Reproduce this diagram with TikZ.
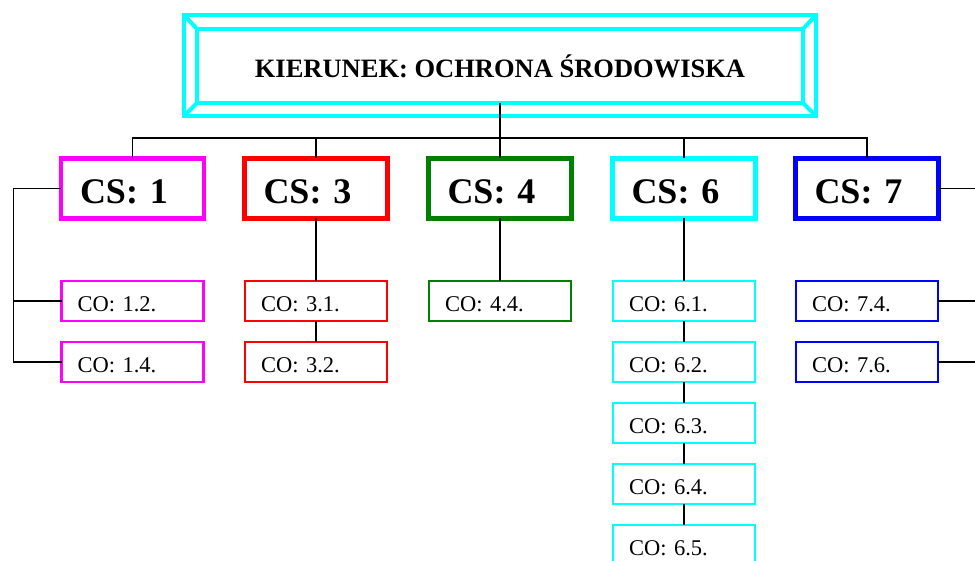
\documentclass[tikz,border=0pt]{standalone}
\usepackage{fontspec}
\setmainfont{Liberation Serif}
\usetikzlibrary{positioning}
\definecolor{csgreen}{RGB}{0,128,0}
\definecolor{cscyan}{RGB}{0,255,255}
\definecolor{csmagenta}{RGB}{255,0,255}
\definecolor{csred}{RGB}{255,0,0}
\definecolor{csblue}{RGB}{0,0,255}

\begin{document}
\begin{tikzpicture}[x=1pt,y=-1pt,
                    csbox/.style={draw=#1,line width=4.5pt,outer sep=0pt,minimum height=60pt,
                                  text width=105pt,inner xsep=19pt,align=left,
                                  text height=30pt,text depth=0pt,
                                  font=\fontsize{36}{36}\selectfont\bfseries},
                    cobox/.style={draw=#1,line width=2.5pt,outer sep=0pt,minimum height=40pt,
                                  text width=110pt,inner xsep=16pt,align=left,
                                  text height=21.5pt,text depth=0pt,
                                  font=\fontsize{22.5}{22.5}\selectfont},
                    link/.style={line width=1.3pt}]
  \useasboundingbox (0,0) rectangle (975,561);

  % title with bevelled frame
  \node[draw=cscyan,line width=4pt,outer sep=0pt,minimum width=606pt,minimum height=74pt,
        font=\fontsize{26.5}{26.5}\selectfont\bfseries] (title) at (500,66)
        {KIERUNEK: OCHRONA ŚRODOWISKA};
  \coordinate (fnw) at (184,15);
  \coordinate (fne) at (816,15);
  \coordinate (fsw) at (184,116);
  \coordinate (fse) at (816,116);
  \draw[cscyan,line width=4pt] (fnw) rectangle (fse);
  \foreach \a/\b in {north west/fnw,north east/fne,south west/fsw,south east/fse}
    \draw[cscyan,line width=4pt] (title.\a) -- (\b);

  % CS boxes
  \node[csbox=csmagenta] (cs1) at (132.5,188.5) {CS: 1};
  \node[csbox=csred]     (cs3) at (316,188.5)   {CS: 3};
  \node[csbox=csgreen]   (cs4) at (500,188.5)   {CS: 4};
  \node[csbox=cscyan]    (cs6) at (684,188.5)   {CS: 6};
  \node[csbox=csblue]    (cs7) at (867,188.5)   {CS: 7};

  % CO boxes
  \node[cobox=csmagenta] (co12) at (132.5,301) {CO: 1.2.};
  \node[cobox=csmagenta,below=21pt of co12] (co14) {CO: 1.4.};
  \node[cobox=csred] (co31) at (316,301) {CO: 3.1.};
  \node[cobox=csred,below=21pt of co31] (co32) {CO: 3.2.};
  \node[cobox=csgreen] (co44) at (500,301) {CO: 4.4.};
  \node[cobox=cscyan] (co61) at (684,301) {CO: 6.1.};
  \foreach \i [count=\j] in {2,...,5}
    \node[cobox=cscyan,below=21pt of co6\j] (co6\i) {CO: 6.\i.};
  \node[cobox=csblue] (co74) at (867,301) {CO: 7.4.};
  \node[cobox=csblue,below=21pt of co74] (co76) {CO: 7.6.};

  % bus under the title
  \coordinate (bus) at (500,138);
  \draw[link] (title.south) -- (bus);
  \draw[link] (cs1.north) |- (bus) -| (cs7.north);
  \foreach \n in {cs3,cs4,cs6}
    \draw[link] (\n.north) -- (\n.north |- bus);

  % left rail of CS 1
  \coordinate (lrail) at (13.5,0);
  \draw[link] (cs1.west) -| (lrail |- co14.west) -- (co14.west);
  \draw[link] (co12.west) -- (lrail |- co12.west);

  % columns
  \draw[link] (cs3) -- (co31) -- (co32);
  \draw[link] (cs4) -- (co44);
  \draw[link] (cs6) -- (co61) -- (co62) -- (co63) -- (co64) -- (co65);

  % right side of CS 7, running off the page
  \coordinate (rrail) at (990,0);
  \foreach \n in {cs7,co74,co76}
    \draw[link] (\n.east) -- (rrail |- \n.east);
\end{tikzpicture}
\end{document}
